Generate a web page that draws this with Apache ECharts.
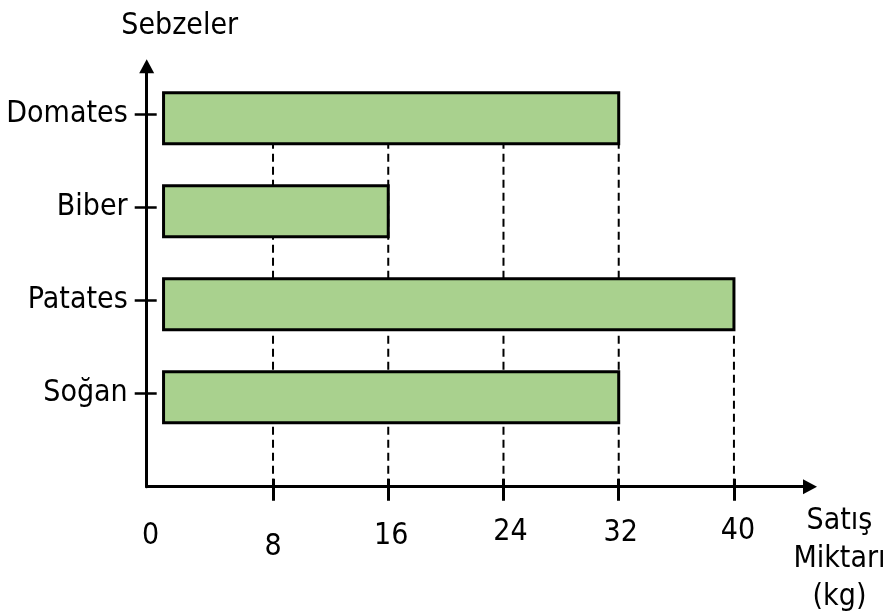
<!DOCTYPE html>
<html><head><meta charset="utf-8">
<script src="https://cdn.jsdelivr.net/npm/echarts@6/dist/echarts.min.js"></script>
<style>html,body{margin:0;padding:0;background:#fff}#c{width:886px;height:615px}</style>
</head><body><div id="c"></div>
<script>
// ---- data ----
const categories = ['Domates', 'Biber', 'Patates', 'Soğan'];
const values = [32, 16, 40, 32];
const xTicks = [8, 16, 24, 32, 40];
const xTickLabels = ['0', '8', '16', '24', '32', '40'];
const yTitle = 'Sebzeler';
const xTitle = ['Satış', 'Miktarı', '(kg)'];

// ---- style ----
const FONT = "'DejaVu Sans Condensed','DejaVu Sans',sans-serif";
const FS = 30;
const X_MIN = -0.77, X_MAX = 45.28, Y_MAX = 4.52;
const BAR_START = 0.4, BAR_FRAC = 0.548, BAR_DY = 3.5;
const n = categories.length;
const pos = i => n - i;
// per-label fine shifts [dx, dy]
const labelShift = [[4, 10], [0, 32], [3, 10], [7, 2], [2, 4], [4, 0]];
const labelValues = [X_MIN].concat(xTicks);

const rich = {};
labelShift.forEach((s, i) => {
  rich['l' + i] = { fontSize: FS, fontFamily: FONT, color: '#000', lineHeight: 30, padding: [s[1], 0, 0, s[0] * 2] };
});

const barData = values.map((v, i) => [v, pos(i)]);
const lineData = xTicks.map(t => {
  let idx = values.findIndex(v => v >= t - 0.5);
  return [t, pos(idx)];
});

const chart = echarts.init(document.getElementById('c'));
const yBase = {
  type: 'value', min: 0, max: Y_MAX, position: 'left',
  splitLine: { show: false }
};
const xBase = {
  type: 'value', min: X_MIN, max: X_MAX, position: 'bottom',
  splitLine: { show: false }
};
chart.setOption({
  animation: false,
  grid: { left: 146.7, right: 76, top: 66.3, bottom: 128.3, containLabel: false, outerBoundsMode: 'none' },
  xAxis: [
    Object.assign({}, xBase, {
      name: xTitle.join('\n'), nameLocation: 'end', nameGap: 15,
      nameTextStyle: { fontSize: FS, fontFamily: FONT, color: '#000', lineHeight: 38, align: 'center', verticalAlign: 'top', padding: [16, 0, 0, 29] },
      axisLine: { onZero: false, symbol: ['none', 'triangle'], symbolSize: [15, 14], lineStyle: { color: '#000', width: 3 } },
      axisTick: { show: true, customValues: xTicks, length: 14, inside: false, lineStyle: { color: '#000', width: 3 } },
      axisLabel: {
        customValues: labelValues, margin: 29.3,
        formatter: (v) => {
          let k = 0, best = 1e9;
          labelValues.forEach((lv, i) => { if (Math.abs(lv - v) < best) { best = Math.abs(lv - v); k = i; } });
          return '{l' + k + '|' + xTickLabels[k] + '}';
        },
        rich: rich
      }
    }),
    Object.assign({}, xBase, {
      axisLine: { show: false, onZero: false },
      axisTick: { show: true, customValues: xTicks, length: 8, inside: true, lineStyle: { color: '#000', width: 3 } },
      axisLabel: { show: false }
    })
  ],
  yAxis: [
    Object.assign({}, yBase, {
      name: yTitle, nameLocation: 'end', nameGap: 25.3,
      nameTextStyle: { fontSize: FS, fontFamily: FONT, color: '#000', lineHeight: 30, align: 'center', verticalAlign: 'bottom', padding: [0, 0, 0, 66] },
      axisLine: { onZero: false, symbol: ['none', 'triangle'], symbolSize: [15, 14], lineStyle: { color: '#000', width: 3 } },
      axisTick: { show: true, customValues: [1, 2, 3, 4], length: 12, inside: false, lineStyle: { color: '#000', width: 2.5 } },
      axisLabel: {
        customValues: [1, 2, 3, 4], margin: 19,
        fontSize: FS, fontFamily: FONT, color: '#000',
        formatter: v => categories[n - Math.round(v)] || ''
      }
    }),
    Object.assign({}, yBase, {
      axisLine: { show: false, onZero: false },
      axisTick: { show: true, customValues: [1, 2, 3, 4], length: 10, inside: true, lineStyle: { color: '#000', width: 2.5 } },
      axisLabel: { show: false }
    })
  ],
  series: [
    {
      type: 'custom', xAxisIndex: 0, yAxisIndex: 0, z: 1, silent: true,
      data: lineData, encode: { x: 0, y: 1 },
      renderItem: (params, api) => {
        const t = api.value(0), y = api.value(1);
        const p0 = api.coord([t, 0]);
        const p1 = api.coord([t, y]);
        const h = api.size([0, 1])[1] * BAR_FRAC;
        const top = p1[1] + BAR_DY + h / 2;
        return { type: 'line', shape: { x1: p0[0], y1: p0[1], x2: p0[0], y2: top },
          style: { stroke: '#000', lineWidth: 2, lineDash: [8, 5] } };
      }
    },
    {
      type: 'custom', xAxisIndex: 0, yAxisIndex: 0, z: 2,
      data: barData, encode: { x: 0, y: 1 },
      renderItem: (params, api) => {
        const v = api.value(0), y = api.value(1);
        const s = api.coord([BAR_START, y]);
        const e = api.coord([v, y]);
        const h = api.size([0, 1])[1] * BAR_FRAC;
        return { type: 'rect', shape: { x: s[0], y: s[1] - h / 2 + BAR_DY, width: e[0] - s[0], height: h },
          style: { fill: '#a9d18e', stroke: '#000', lineWidth: 3 } };
      }
    }
  ]
});
</script></body></html>
